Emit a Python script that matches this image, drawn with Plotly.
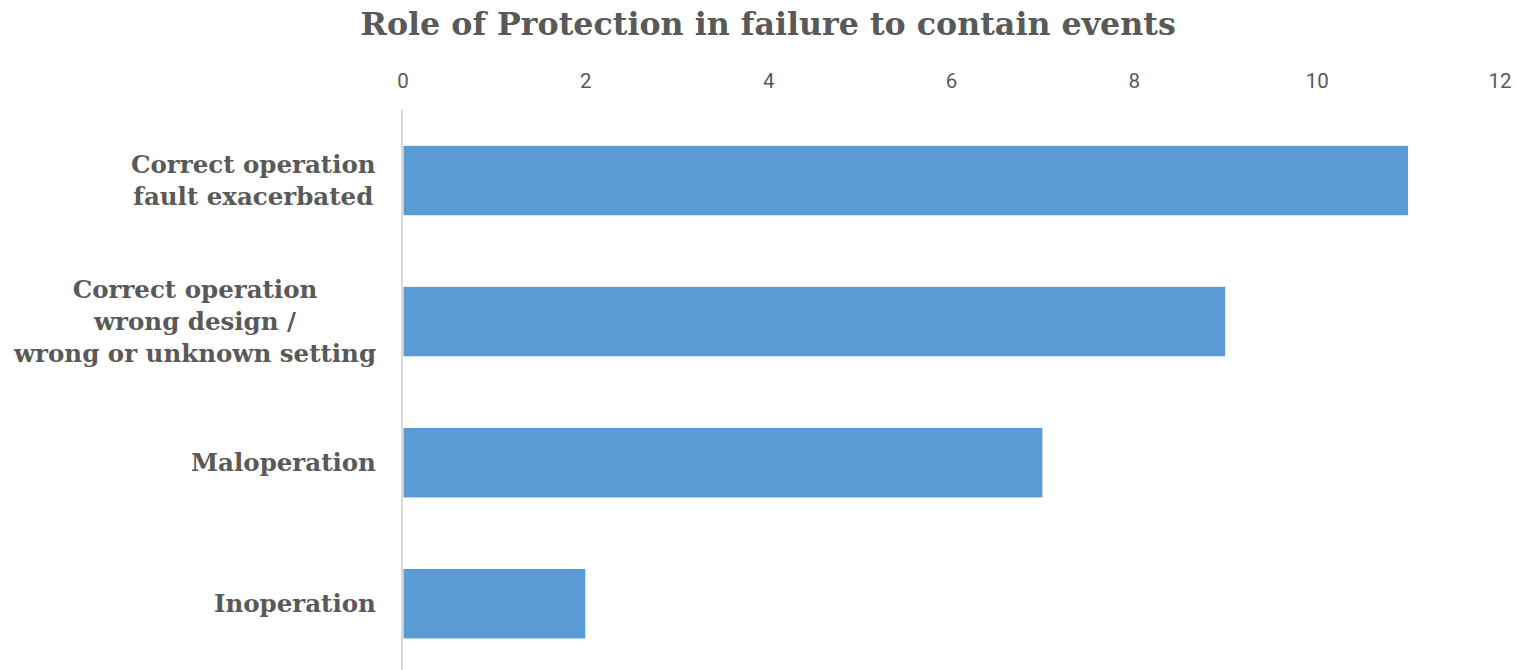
import plotly.graph_objects as go

categories = [
    "Correct operation<br>fault exacerbated",
    "Correct operation<br>wrong design /<br>wrong or unknown setting",
    "Maloperation",
    "Inoperation",
]
values = [11, 9, 7, 2]
tick_vals = [0, 2, 4, 6, 8, 10, 12]

label_font = dict(family="DejaVu Serif", size=24.5, color="#595959", weight="bold")

fig = go.Figure(
    go.Bar(
        x=values,
        y=categories,
        orientation="h",
        width=0.5,
        marker=dict(color="#5b9bd5", line=dict(color="white", width=1)),
    )
)

for cat in categories:
    fig.add_annotation(
        x=0, xref="paper", y=cat, yref="y",
        text=cat, showarrow=False,
        xanchor="right", yanchor="middle", align="center",
        xshift=-25, font=label_font,
    )

fig.update_layout(
    width=1516,
    height=670,
    margin=dict(l=403, r=16, t=110, b=0),
    paper_bgcolor="white",
    plot_bgcolor="white",
    showlegend=False,
    title=dict(
        text="<b>Role of Protection in failure to contain events</b>",
        x=0.5067,
        xanchor="center",
        y=0.965,
        yanchor="middle",
        font=dict(family="DejaVu Serif", size=31.7, color="#595959"),
    ),
)

fig.update_xaxes(
    side="top",
    range=[0, 12],
    tickvals=tick_vals,
    ticktext=[str(v) for v in tick_vals],
    showgrid=False,
    zeroline=False,
    showline=False,
    ticks="",
    ticklabelstandoff=17,
    tickfont=dict(family="Liberation Sans Narrow, Roboto", size=20.5, color="#595959"),
)

fig.update_yaxes(
    type="category",
    categoryorder="array",
    categoryarray=categories,
    range=[3.47, -0.5],
    showgrid=False,
    zeroline=False,
    showline=True,
    linecolor="#d9d9d9",
    linewidth=2,
    ticks="",
    showticklabels=False,
)

fig.write_html("out.html")
